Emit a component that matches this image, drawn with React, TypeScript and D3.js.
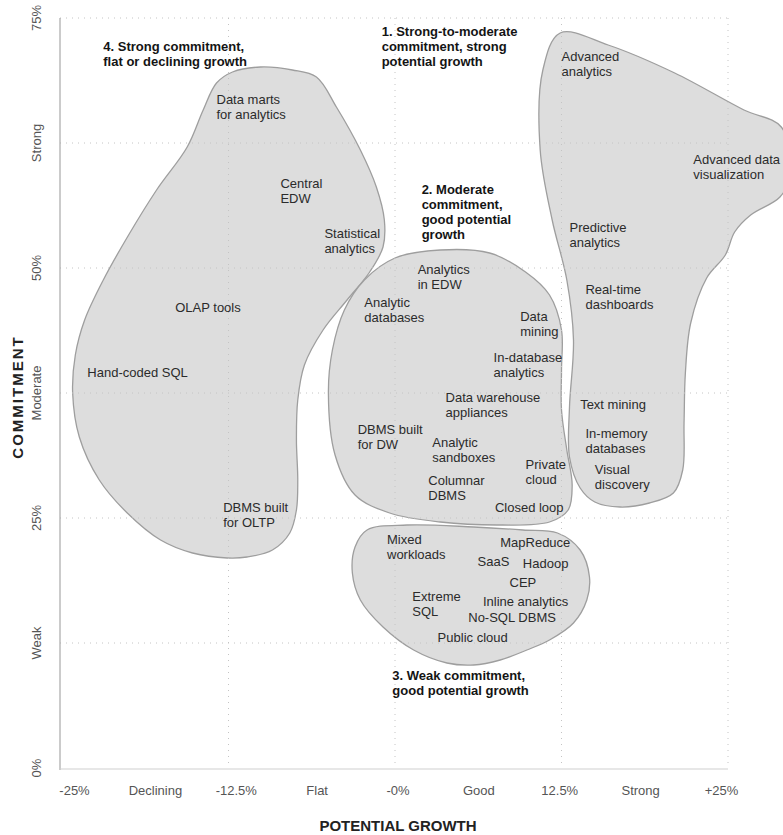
import React, { useEffect, useRef } from 'react';
import * as d3 from 'd3';

// axis ticks
const growthLabels = ['-25%', 'Declining', '-12.5%', 'Flat', '-0%', 'Good', '12.5%', 'Strong', '+25%'];
const growthGrid = [-12.5, 0, 12.5, 25];
const commitTicks = [0, 12.5, 25, 37.5, 50, 62.5, 75];
const commitLabels = ['0%', 'Weak', '25%', 'Moderate', '50%', 'Strong', '75%'];

// blob outlines, [growth %, commitment %]
const blobStrongFlat: [number, number][] = [
  [-13.4, 68.5], [-12.2, 69.6], [-10.1, 70.1], [-7.7, 69.8], [-5.9, 69.1], [-4.4, 66.1],
  [-2.6, 61.8], [-1.4, 58.1], [-0.8, 54.8], [-0.9, 52.1], [-1.9, 49.6], [-3.6, 46.8],
  [-5.4, 43.8], [-6.8, 40.3], [-7.3, 36.8], [-7.4, 32.8], [-7.3, 28.8], [-7.4, 25.8],
  [-7.9, 23.5], [-9.2, 21.8], [-11.1, 21.1], [-12.6, 21.0], [-15.2, 21.5], [-17.6, 22.8],
  [-20.1, 25.5], [-22.2, 28.8], [-23.7, 33.1], [-24.2, 37.5], [-24.0, 41.3], [-23.3, 44.8],
  [-21.9, 48.8], [-20.0, 53.3], [-17.9, 57.8], [-15.6, 62.1], [-14.4, 65.8]
];
const blobModerate: [number, number][] = [
  [-5.0, 37.5], [-4.7, 41.8], [-3.8, 45.8], [-2.3, 48.8], [0, 51.0], [3.4, 51.8],
  [7.1, 51.5], [9.8, 49.6], [11.6, 47.3], [12.5, 43.8], [12.5, 39.8], [12.5, 35.8],
  [12.9, 31.8], [13.3, 28.3], [13.0, 25.8], [11.6, 24.6], [7.9, 24.3], [3.4, 24.6],
  [-0.4, 25.5], [-3.0, 27.3], [-4.5, 31.3]
];
const blobWeak: [number, number][] = [
  [-2.1, 23.8], [0.9, 24.3], [5.9, 24.1], [9.6, 23.8], [12.2, 23.5], [13.9, 21.8],
  [14.6, 19.1], [14.4, 16.8], [13.4, 14.5], [11.6, 12.8], [9.9, 11.8], [7.9, 10.8],
  [5.9, 10.3], [3.9, 10.5], [1.4, 11.8], [-0.9, 14.1], [-2.6, 16.8], [-3.2, 19.5], [-3.0, 22.1]
];
const blobStrongGrowth: [number, number][] = [
  [12.4, 73.5], [16.0, 72.3], [21.0, 69.5], [26.2, 65.8], [29.0, 64.1],
  [29.7, 59.3], [28.9, 57.1], [26.7, 55.3], [25.5, 53.6], [24.8, 51.3], [23.4, 49.0],
  [22.2, 44.5], [21.8, 39.5], [21.7, 34.5], [21.6, 29.8], [20.9, 27.5], [19.1, 26.5],
  [16.9, 26.1], [15.0, 26.6], [13.9, 28.0], [13.1, 31.1], [13.1, 36.1], [13.4, 42.8],
  [12.9, 48.8], [11.8, 54.8], [10.9, 61.8], [11.1, 69.8]
];
const blobs = [blobStrongFlat, blobModerate, blobWeak, blobStrongGrowth];

// group headings (growth, commitment of first baseline)
const groupTitles = [
  { lines: ['4. Strong commitment,', 'flat or declining growth'], g: -21.9, c: 71.7 },
  { lines: ['1. Strong-to-moderate', 'commitment, strong', 'potential growth'], g: -1.0, c: 73.2 },
  { lines: ['2. Moderate', 'commitment,', 'good potential', 'growth'], g: 2.0, c: 57.4 },
  { lines: ['3. Weak commitment,', 'good potential growth'], g: -0.2, c: 8.8 }
];

// technologies
const techLabels = [
  { lines: ['Data marts', 'for analytics'], g: -13.4, c: 66.4 },
  { lines: ['Central', 'EDW'], g: -8.6, c: 58.0 },
  { lines: ['Statistical', 'analytics'], g: -5.3, c: 53.0 },
  { lines: ['OLAP tools'], g: -16.5, c: 45.6 },
  { lines: ['Hand-coded SQL'], g: -23.1, c: 39.1 },
  { lines: ['DBMS built', 'for OLTP'], g: -12.9, c: 25.6 },
  { lines: ['Analytics', 'in EDW'], g: 1.7, c: 49.4 },
  { lines: ['Analytic', 'databases'], g: -2.3, c: 46.1 },
  { lines: ['Data', 'mining'], g: 9.4, c: 44.7 },
  { lines: ['In-database', 'analytics'], g: 7.4, c: 40.6 },
  { lines: ['Data warehouse', 'appliances'], g: 3.8, c: 36.6 },
  { lines: ['DBMS built', 'for DW'], g: -2.8, c: 33.4 },
  { lines: ['Analytic', 'sandboxes'], g: 2.8, c: 32.1 },
  { lines: ['Private', 'cloud'], g: 9.8, c: 29.9 },
  { lines: ['Columnar', 'DBMS'], g: 2.5, c: 28.3 },
  { lines: ['Closed loop'], g: 7.5, c: 25.6 },
  { lines: ['Advanced', 'analytics'], g: 12.5, c: 70.7 },
  { lines: ['Advanced data', 'visualization'], g: 22.4, c: 60.4 },
  { lines: ['Predictive', 'analytics'], g: 13.1, c: 53.6 },
  { lines: ['Real-time', 'dashboards'], g: 14.3, c: 47.4 },
  { lines: ['Text mining'], g: 13.9, c: 35.9 },
  { lines: ['In-memory', 'databases'], g: 14.3, c: 33.0 },
  { lines: ['Visual', 'discovery'], g: 15.0, c: 29.4 },
  { lines: ['Mixed', 'workloads'], g: -0.6, c: 22.4 },
  { lines: ['MapReduce'], g: 7.9, c: 22.1 },
  { lines: ['SaaS'], g: 6.2, c: 20.2 },
  { lines: ['Hadoop'], g: 9.6, c: 20.0 },
  { lines: ['CEP'], g: 8.6, c: 18.1 },
  { lines: ['Extreme', 'SQL'], g: 1.3, c: 16.7 },
  { lines: ['Inline analytics'], g: 6.6, c: 16.2 },
  { lines: ['No-SQL DBMS'], g: 5.5, c: 14.6 },
  { lines: ['Public cloud'], g: 3.2, c: 12.6 }
];

const FONT = "'Liberation Sans', Arial, Helvetica, sans-serif";

const App = () => {
  const ref = useRef<SVGSVGElement | null>(null);

  useEffect(() => {
    const width = 783;
    const height = 835;
    const svg = d3.select(ref.current);
    svg.selectAll('*').remove();
    svg.attr('width', width).attr('height', height);

    const x = d3.scaleLinear().domain([-25, 25]).range([62, 728]);
    const y = d3.scaleLinear().domain([0, 75]).range([768, 18]);
    const xLab = d3.scalePoint<string>().domain(growthLabels).range([74, 721]);

    // blobs
    const line = d3.line<[number, number]>()
      .x(d => x(d[0]))
      .y(d => y(d[1]))
      .curve(d3.curveCatmullRomClosed.alpha(0.5));

    svg.append('g')
      .selectAll('path')
      .data(blobs)
      .join('path')
      .attr('d', d => line(d))
      .attr('fill', '#dddddd')
      .attr('stroke', '#9e9e9e')
      .attr('stroke-width', 1.3);

    // dotted grid
    const grid = svg.append('g')
      .attr('stroke', '#c4c4c4')
      .attr('stroke-width', 1)
      .attr('stroke-dasharray', '1,5');
    grid.selectAll('.h')
      .data(commitTicks.filter(d => d > 0))
      .join('line')
      .attr('x1', 60).attr('x2', x(25))
      .attr('y1', d => y(d)).attr('y2', d => y(d));
    grid.selectAll('.v')
      .data(growthGrid)
      .join('line')
      .attr('x1', d => x(d)).attr('x2', d => x(d))
      .attr('y1', y(75)).attr('y2', y(0));

    // axis lines
    svg.append('line')
      .attr('x1', 60).attr('x2', 60)
      .attr('y1', y(75)).attr('y2', y(0) + 2)
      .attr('stroke', '#a8a8a8').attr('stroke-width', 1.2);
    svg.append('line')
      .attr('x1', 60).attr('x2', x(25))
      .attr('y1', y(0) + 1).attr('y2', y(0) + 1)
      .attr('stroke', '#cfcfcf').attr('stroke-width', 1.2);

    // x tick labels
    const xAxis = svg.append('g')
      .attr('transform', `translate(0, ${y(0) + 1})`)
      .call(d3.axisBottom(xLab).tickSize(0).tickPadding(17));
    xAxis.select('.domain').remove();
    xAxis.selectAll('text')
      .style('font-family', FONT)
      .style('font-size', '13px')
      .attr('fill', '#555');

    // y tick labels (rotated)
    svg.append('g')
      .selectAll('text')
      .data(commitTicks)
      .join('text')
      .attr('transform', d => `translate(41, ${y(d)}) rotate(-90)`)
      .attr('text-anchor', 'middle')
      .style('font-family', FONT)
      .style('font-size', '13px')
      .attr('fill', '#555')
      .text((d, i) => commitLabels[i]);

    // axis titles
    svg.append('text')
      .attr('transform', `translate(23, ${y(37.5) + 4}) rotate(-90)`)
      .attr('text-anchor', 'middle')
      .style('font-family', FONT)
      .style('font-size', '15px')
      .style('font-weight', 'bold')
      .style('letter-spacing', '2px')
      .attr('fill', '#222')
      .text('COMMITMENT');

    svg.append('text')
      .attr('x', 398)
      .attr('y', 831)
      .attr('text-anchor', 'middle')
      .style('font-family', FONT)
      .style('font-size', '15px')
      .style('font-weight', 'bold')
      .attr('fill', '#222')
      .text('POTENTIAL GROWTH');

    // labels
    const drawLabels = (data: typeof techLabels, bold: boolean) => {
      const t = svg.append('g')
        .selectAll('text')
        .data(data)
        .join('text')
        .attr('x', d => x(d.g))
        .attr('y', d => y(d.c))
        .style('font-family', FONT)
        .style('font-size', '13px')
        .style('font-weight', bold ? 'bold' : 'normal')
        .attr('fill', bold ? '#141414' : '#2b2b2b');
      t.selectAll('tspan')
        .data(d => d.lines.map((l, i) => ({ l, i, x: x(d.g) })))
        .join('tspan')
        .attr('x', d => d.x)
        .attr('dy', d => (d.i === 0 ? 0 : 15))
        .text(d => d.l);
    };
    drawLabels(techLabels, false);
    drawLabels(groupTitles, true);
  }, []);

  return (
    <svg
      ref={ref}
      style={{ position: 'absolute', left: 0, top: 0, background: '#fff' }}
    />
  );
};

export default App;
